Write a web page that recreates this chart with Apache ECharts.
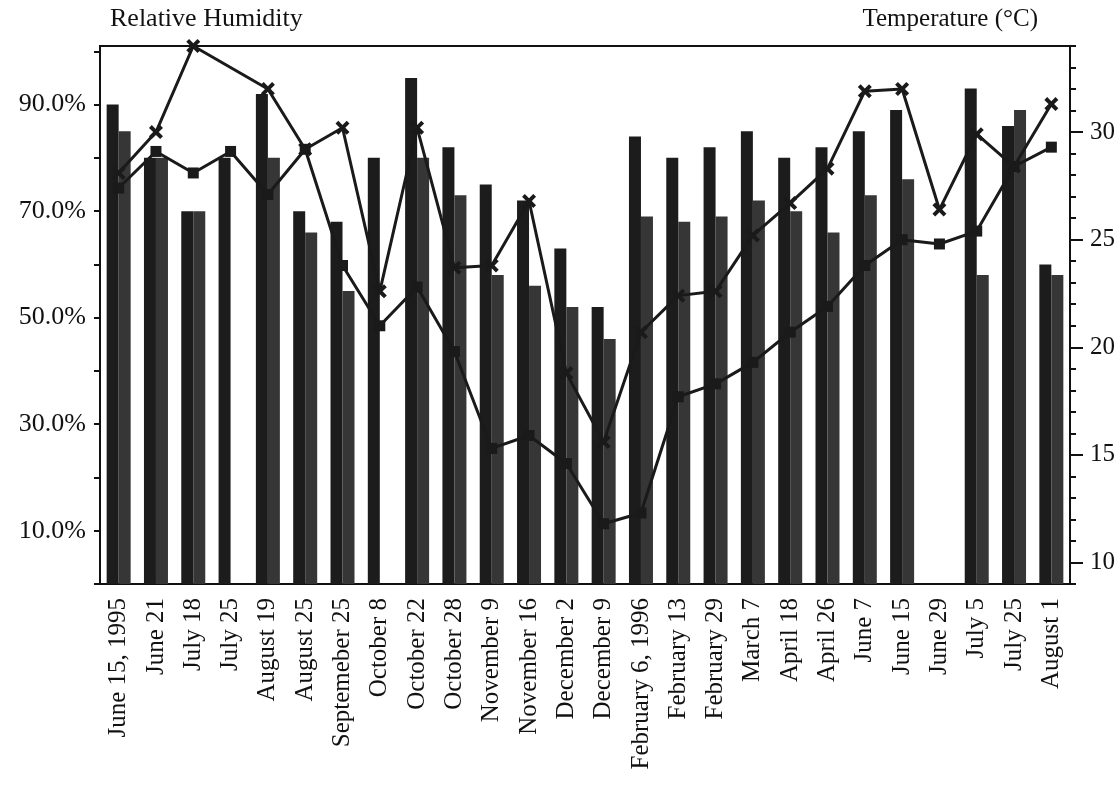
<!DOCTYPE html>
<html>
<head>
<meta charset="utf-8">
<title>Relative Humidity and Temperature</title>
<script src="https://cdn.jsdelivr.net/npm/echarts@6/dist/echarts.min.js"></script>
<style>
  html, body { margin: 0; padding: 0; background: #fff; }
  #chart { width: 1120px; height: 791px; }
</style>
</head>
<body>
<div id="chart"></div>
<script>
// Sampling dates
const categories = [
  'June 15, 1995', 'June 21', 'July 18', 'July 25', 'August 19', 'August 25',
  'Septemeber 25', 'October 8', 'October 22', 'October 28', 'November 9',
  'November 16', 'December 2', 'December 9', 'February 6, 1996', 'February 13',
  'February 29', 'March 7', 'April 18', 'April 26', 'June 7', 'June 15',
  'June 29', 'July 5', 'July 25', 'August 1'
];

// Relative humidity (%), two readings per date
const humidityA = [90, 80, 70, 80, 92, 70, 68, 80, 95, 82, 75, 72, 63, 52, 84, 80, 82, 85, 80, 82, 85, 89, null, 93, 86, 60];
const humidityB = [85, 80, 70, null, 80, 66, 55, null, 80, 73, 58, 56, 52, 46, 69, 68, 69, 72, 70, 66, 73, 76, null, 58, 89, 58];

// Temperature (°C), two readings per date
const tempCross  = [28.1, 30.0, 34.0, null, 32.0, 29.2, 30.2, 22.6, 30.2, 23.7, 23.8, 26.8, 18.8, 15.6, 20.7, 22.4, 22.6, 25.2, 26.7, 28.3, 31.9, 32.0, 26.4, 29.9, 28.4, 31.3];
const tempSquare = [27.4, 29.1, 28.1, 29.1, 27.1, 29.2, 23.8, 21.0, 22.8, 19.8, 15.3, 15.9, 14.6, 11.8, 12.3, 17.7, 18.3, 19.3, 20.7, 21.9, 23.8, 25.0, 24.8, 25.4, 28.4, 29.3];

// Axis ticks and labels
const humidityTicks  = [0, 10, 20, 30, 40, 50, 60, 70, 80, 90, 100];
const humidityLabels = [10, 30, 50, 70, 90];
const tempLabels     = [10, 15, 20, 25, 30];

const FONT = 'Liberation Serif';
const INK = '#111';
const CROSS = 'path://M2,0 L5,3 L8,0 L10,2 L7,5 L10,8 L8,10 L5,7 L2,10 L0,8 L3,5 L0,2 Z';

const chart = echarts.init(document.getElementById('chart'), null, { renderer: 'canvas' });

chart.setOption({
  backgroundColor: '#fff',
  animation: false,
  textStyle: { fontFamily: FONT, color: INK },
  grid: {
    left: 100, right: 50, top: 46, bottom: 207,
    show: true, borderColor: INK, borderWidth: 2, backgroundColor: 'transparent'
  },
  xAxis: {
    type: 'category',
    data: categories,
    boundaryGap: true,
    axisLine: { lineStyle: { color: INK, width: 2 } },
    axisTick: { alignWithLabel: true, length: 15, lineStyle: { color: INK, width: 2 } },
    axisLabel: {
      interval: 0, rotate: 90, margin: 14,
      fontFamily: FONT, fontSize: 25, color: INK
    },
    splitLine: { show: false }
  },
  yAxis: [
    {
      type: 'value', min: 0, max: 101, position: 'left',
      name: 'Relative Humidity', nameLocation: 'end', nameGap: 14,
      nameTextStyle: { fontFamily: FONT, fontSize: 26, color: INK, align: 'left', padding: [0, 0, 0, 10] },
      axisLine: { show: true, lineStyle: { color: INK, width: 2 } },
      axisTick: { show: true, length: 6, customValues: humidityTicks, lineStyle: { color: INK, width: 2 } },
      axisLabel: {
        customValues: humidityLabels, margin: 14,
        fontFamily: FONT, fontSize: 26, color: INK,
        formatter: v => v.toFixed(1) + '%'
      },
      splitLine: { show: false }
    },
    {
      type: 'value', min: 9, max: 34, position: 'right',
      name: 'Temperature (°C)', nameLocation: 'end', nameGap: 14,
      nameTextStyle: { fontFamily: FONT, fontSize: 25, color: INK, align: 'right', padding: [0, 32, 0, 0] },
      axisLine: { show: true, lineStyle: { color: INK, width: 2 } },
      axisTick: { show: true, length: 13, customValues: tempLabels, lineStyle: { color: INK, width: 2 } },
      axisLabel: {
        customValues: tempLabels, margin: 20,
        fontFamily: FONT, fontSize: 25, color: INK
      },
      splitLine: { show: false }
    },
    {
      // minor 1 °C ticks on the temperature axis
      type: 'value', min: 9, max: 34, interval: 1, position: 'right',
      axisLine: { show: true, lineStyle: { color: INK, width: 2 } },
      axisTick: { show: true, length: 6, lineStyle: { color: INK, width: 2 } },
      axisLabel: { show: false },
      splitLine: { show: false }
    }
  ],
  series: [
    {
      name: 'Humidity A', type: 'bar', yAxisIndex: 0,
      data: humidityA, barWidth: 12, barGap: '0%',
      itemStyle: { color: '#1c1c1c' }
    },
    {
      name: 'Humidity B', type: 'bar', yAxisIndex: 0,
      data: humidityB, barWidth: 12, barGap: '0%',
      itemStyle: { color: '#363636' }
    },
    {
      name: 'Temperature A', type: 'line', yAxisIndex: 1,
      data: tempSquare, connectNulls: true,
      symbol: 'rect', symbolSize: 11,
      lineStyle: { color: '#1a1a1a', width: 3 },
      itemStyle: { color: '#1a1a1a' },
      z: 5
    },
    {
      name: 'Temperature B', type: 'line', yAxisIndex: 1,
      data: tempCross, connectNulls: true,
      symbol: CROSS, symbolSize: 14, symbolKeepAspect: true,
      lineStyle: { color: '#1a1a1a', width: 3 },
      itemStyle: { color: '#1a1a1a' },
      z: 6
    }
  ]
});
</script>
</body>
</html>
